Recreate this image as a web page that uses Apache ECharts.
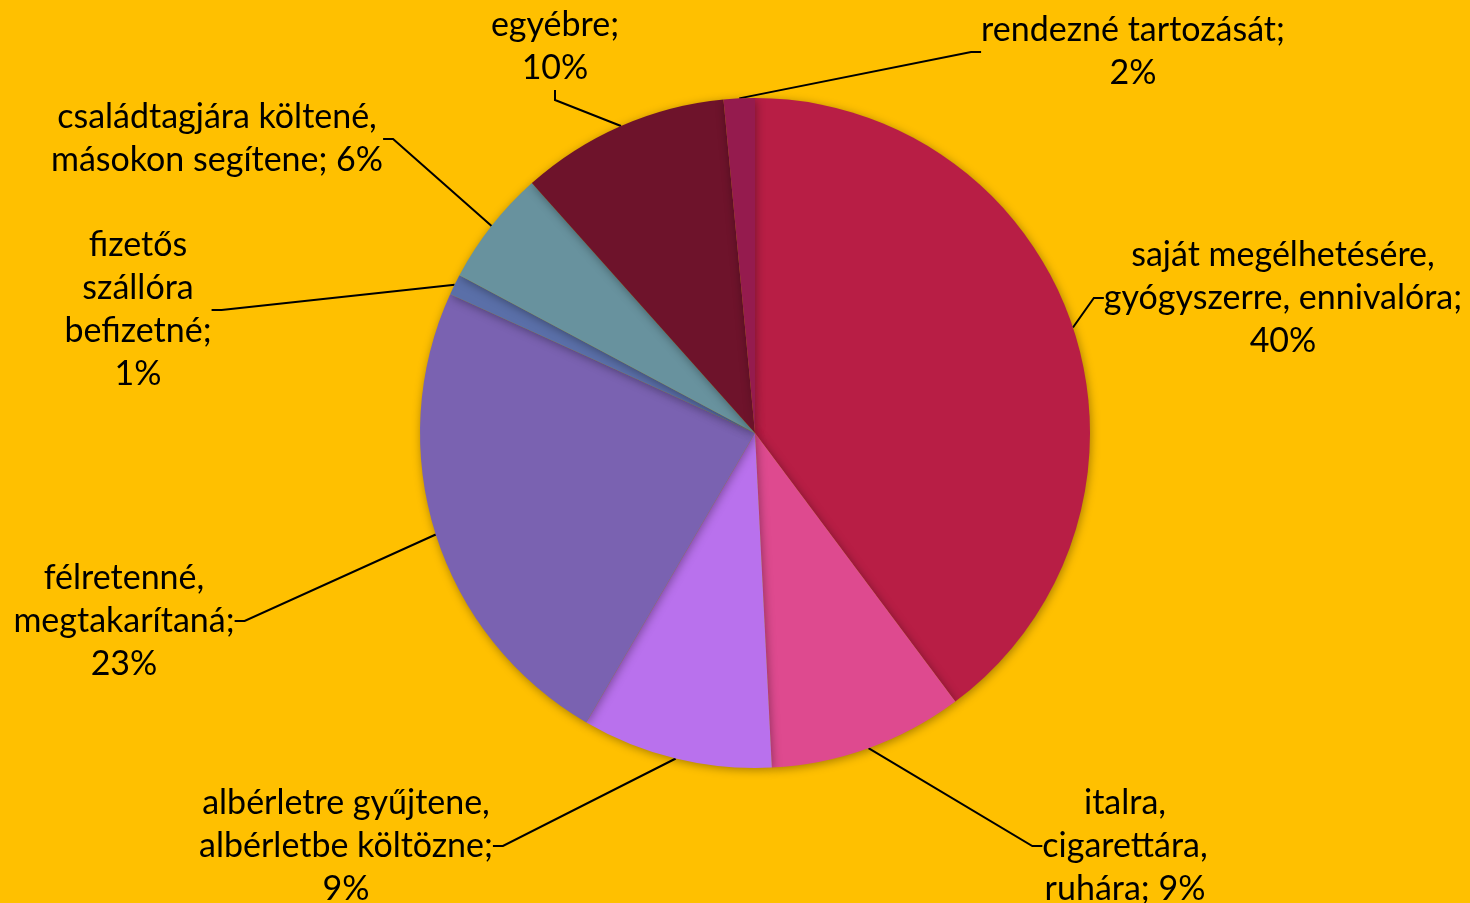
<!DOCTYPE html>
<html>
<head>
<meta charset="utf-8">
<script src="https://cdn.jsdelivr.net/npm/echarts@6/dist/echarts.min.js"></script>
<style>
html,body{margin:0;padding:0;background:#FFC000;}
#chart{width:1470px;height:903px;}
</style>
</head>
<body>
<div id="chart"></div>
<script>
// Data (clockwise from 12 o'clock)
const categories = [
  "saját megélhetésére,\ngyógyszerre, ennivalóra;",
  "italra,\ncigarettára,\nruhára;",
  "albérletre gyűjtene,\nalbérletbe költözne;\n",
  "félretenné,\nmegtakarítaná;\n",
  "fizetős\nszállóra\nbefizetné;\n",
  "családtagjára költené,\nmásokon segítene;",
  "egyébre;\n",
  "rendezné tartozását;\n"
];
const values = [39.8, 9.4, 9.2, 23.4, 1.0, 5.6, 10.1, 1.5];
const percentLabels = ["40%", "9%", "9%", "23%", "1%", "6%", "10%", "2%"];
const separators = ["\n", " ", "", "", "", " ", "", ""];
const colors = ["#B81E45", "#DE4A8F", "#B971ED", "#7A62B1", "#5A6FA8", "#68929E", "#6E132B", "#951B4E"];

// Label anchor positions (layout only)
const labelPos = [
  [1283, 298], [1125, 846], [346, 846], [124, 621],
  [138, 310], [217, 139], [555, 47], [1133, 52]
];

const chart = echarts.init(document.getElementById('chart'));
chart.setOption({
  backgroundColor: '#FFC000',
  animation: false,
  series: [{
    type: 'pie',
    center: [755, 433],
    radius: [0, 335],
    startAngle: 90,
    clockwise: true,
    data: categories.map((c, i) => ({
      name: c,
      value: values[i],
      itemStyle: { color: colors[i] },
      label: { formatter: c + separators[i] + percentLabels[i] }
    })),
    itemStyle: {
      shadowBlur: 10,
      shadowColor: 'rgba(0,0,0,0.35)',
      shadowOffsetX: 1,
      shadowOffsetY: 2
    },
    label: {
      show: true,
      color: '#000',
      fontFamily: 'Lato',
      fontSize: 34,
      lineHeight: 43,
      align: 'center'
    },
    labelLine: {
      show: true,
      length: 10,
      length2: 10,
      lineStyle: { color: '#000', width: 2 }
    },
    labelLayout: function (params) {
      const p = labelPos[params.dataIndex];
      return { x: p[0], y: p[1], align: 'center', verticalAlign: 'middle' };
    }
  }]
});
</script>
</body>
</html>
